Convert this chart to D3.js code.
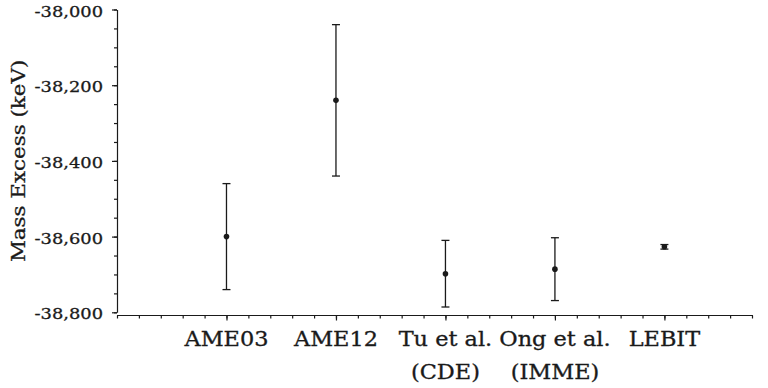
<!DOCTYPE html>
<html>
<head>
<meta charset="utf-8">
<script src="https://cdn.jsdelivr.net/npm/d3@7"></script>
<style>
  html, body { margin: 0; padding: 0; background: #fff; }
  svg { display: block; }
  text { font-family: "DejaVu Serif", "Liberation Serif", serif; fill: #1a1a1a; stroke: #1a1a1a; stroke-width: 0.3px; }
</style>
</head>
<body>
<svg id="chart" width="768" height="388"></svg>
<script>
// ---- data ----
const categories = [["AME03"], ["AME12"], ["Tu et al.", "(CDE)"], ["Ong et al.", "(IMME)"], ["LEBIT"]];
const positions  = [1, 2, 3, 4, 5];
const values     = [-38600, -38240, -38698, -38686, -38627];
const errors     = [140, 200, 88, 83, 6];
const yTickValues = [-38800, -38600, -38400, -38200, -38000];
const yMinorStep = 50;
const xMinorStep = 0.2;
const yTitle = "Mass Excess (keV)";

// ---- layout ----
const svg = d3.select("#chart");
const xLeft = 117, xRight = 752;
const yTop = 9.5, yBottom = 312.3;
const xAxisY = 315.5;
const ink = "#1a1a1a";
const stretch = 1.19;

const x = d3.scaleLinear().domain([0, 5.8]).range([xLeft, xRight]);
const y = d3.scaleLinear().domain([-38800, -38000]).range([yBottom, yTop]);

const locale = d3.formatLocale({decimal: ".", thousands: ",", grouping: [3], currency: ["", ""], minus: "-"});
const fmt = locale.format(",");

// y minor ticks
const yMinor = d3.range(-38800, -38000 + 1, yMinorStep);
const gYMinor = svg.append("g").attr("transform", `translate(${xLeft},0)`)
  .call(d3.axisLeft(y).tickValues(yMinor).tickSize(3).tickFormat(""));
gYMinor.select(".domain").remove();

// y major axis
const gY = svg.append("g").attr("transform", `translate(${xLeft},0)`)
  .call(d3.axisLeft(y).tickValues(yTickValues).tickSize(5).tickSizeOuter(0).tickFormat(fmt));
gY.selectAll("text")
  .attr("x", 0).attr("dy", "0.44em")
  .attr("transform", `translate(-14,0) scale(${stretch},1)`)
  .style("font-size", "15px").style("font-family", "DejaVu Serif");

// x minor ticks
const xMinor = d3.range(0, 5.8 + 1e-9, xMinorStep).map(v => +v.toFixed(2));
const gXMinor = svg.append("g").attr("transform", `translate(0,${xAxisY})`)
  .call(d3.axisBottom(x).tickValues(xMinor).tickSize(3).tickFormat(""));
gXMinor.select(".domain").attr("d", `M${xLeft},0H${xRight + 1}`);

// x major ticks + labels
const gX = svg.append("g").attr("transform", `translate(0,${xAxisY})`)
  .call(d3.axisBottom(x).tickValues(positions).tickSize(5).tickFormat(""));
gX.select(".domain").remove();

svg.selectAll(".tick line, .domain").attr("stroke", ink).attr("stroke-width", 1.2);

const labels = svg.append("g").selectAll("text")
  .data(categories).join("text")
  .attr("text-anchor", "middle")
  .attr("transform", (d, i) => `translate(${x(positions[i])},${xAxisY + 30}) scale(1.15,1)`)
  .style("font-size", "19.5px");
labels.selectAll("tspan").data(d => d).join("tspan")
  .attr("x", 0).attr("dy", (d, i) => i === 0 ? 0 : 34)
  .text(d => d);

// y title
svg.append("text")
  .attr("text-anchor", "middle")
  .attr("transform", `translate(25,${(yTop + yBottom) / 2}) rotate(-90) scale(${stretch},1)`)
  .style("font-size", "18px")
  .text(yTitle);

// error bars
const pts = positions.map((p, i) => ({p, v: values[i], e: errors[i]}));
const eb = svg.append("g").attr("stroke", ink).attr("stroke-width", 1.3);
eb.selectAll("line.v").data(pts).join("line").attr("class", "v")
  .attr("x1", d => x(d.p)).attr("x2", d => x(d.p))
  .attr("y1", d => y(d.v + d.e)).attr("y2", d => y(d.v - d.e));
eb.selectAll("line.t").data(pts).join("line").attr("class", "t")
  .attr("x1", d => x(d.p) - 4).attr("x2", d => x(d.p) + 4)
  .attr("y1", d => y(d.v + d.e)).attr("y2", d => y(d.v + d.e));
eb.selectAll("line.b").data(pts).join("line").attr("class", "b")
  .attr("x1", d => x(d.p) - 4).attr("x2", d => x(d.p) + 4)
  .attr("y1", d => y(d.v - d.e)).attr("y2", d => y(d.v - d.e));

svg.append("g").selectAll("circle").data(pts).join("circle")
  .attr("cx", d => x(d.p)).attr("cy", d => y(d.v)).attr("r", 2.8)
  .attr("fill", ink);
</script>
</body>
</html>
